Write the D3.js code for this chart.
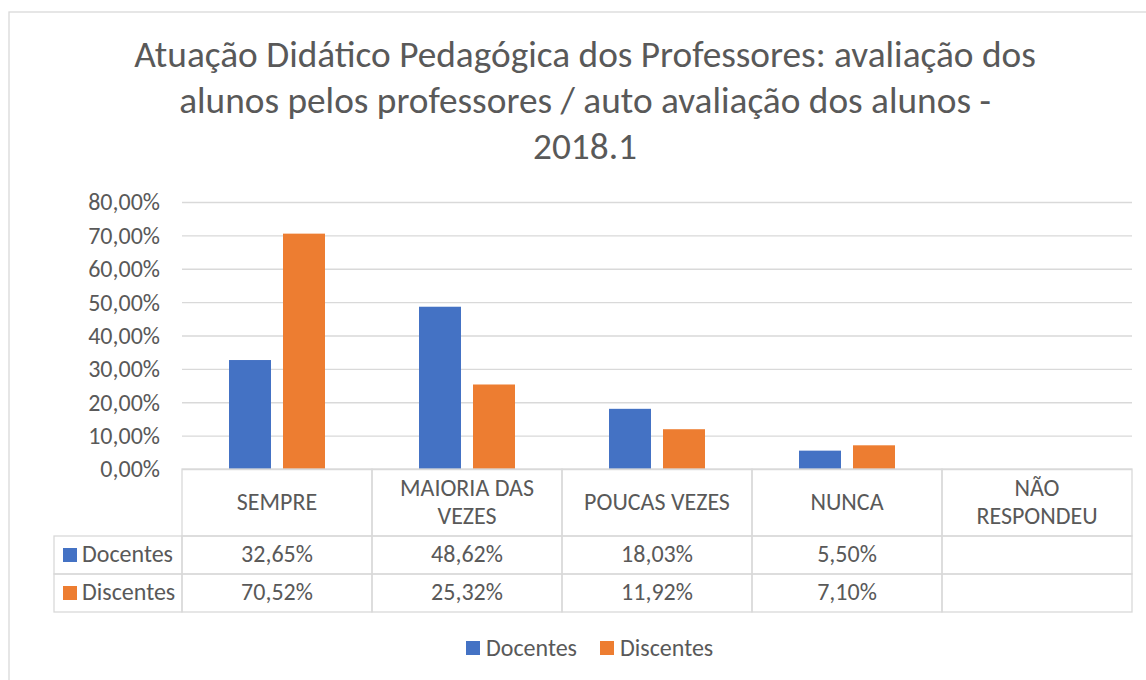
<!DOCTYPE html>
<html>
<head>
<meta charset="utf-8">
<script src="https://cdn.jsdelivr.net/npm/d3@7"></script>
<style>
  body { margin: 0; background: #fff; }
  svg { display: block; font-family: Carlito, Lato, "Open Sans", sans-serif; }
  .grid line { stroke: #d9d9d9; stroke-width: 1.3; }
  .grid path { display: none; }
  .axis-y path, .axis-y line { display: none; }
  .axis-y text { fill: #595959; font-size: 24px; font-family: Carlito, Lato, sans-serif; }
  .cell { fill: none; stroke: #d9d9d9; stroke-width: 1.3; }
  .tbl-text { fill: #595959; font-size: 24px; }
</style>
</head>
<body>
<svg id="chart"></svg>
<script>
// Data
const titleLines = [
  'Atuação Didático Pedagógica dos Professores: avaliação dos',
  'alunos pelos professores / auto avaliação dos alunos -',
  '2018.1'
];
const categories = ['SEMPRE', 'MAIORIA DAS VEZES', 'POUCAS VEZES', 'NUNCA', 'NÃO RESPONDEU'];
const categoryLines = [['SEMPRE'], ['MAIORIA DAS', 'VEZES'], ['POUCAS VEZES'], ['NUNCA'], ['NÃO', 'RESPONDEU']];
const seriesNames = ['Docentes', 'Discentes'];
const docentes = [0.3265, 0.4862, 0.1803, 0.055, null];
const discentes = [0.7052, 0.2532, 0.1192, 0.071, null];
const yTicks = [0, 0.1, 0.2, 0.3, 0.4, 0.5, 0.6, 0.7, 0.8];
const colors = ['#4472c4', '#ed7d31'];

// Layout
const width = 1146;
const height = 680;
const plotLeft = 182;
const plotRight = 1132;
const plotTop = 202;
const plotBottom = 469;
const rowH = 38;
const headerH = 67;
const legendColLeft = 54;

const br = d3.formatLocale({ decimal: ',', thousands: '.', grouping: [3], currency: ['R$', ''] });
const pct = br.format('.2%');

const svg = d3.select('#chart')
  .attr('width', width)
  .attr('height', height);

// chart border (runs off the right and bottom of the picture)
svg.append('rect')
  .attr('x', 9).attr('y', 12)
  .attr('width', width + 20).attr('height', height + 20)
  .attr('fill', '#fff')
  .attr('stroke', '#d9d9d9')
  .attr('stroke-width', 1.3);

// Title
svg.append('text')
  .attr('text-anchor', 'middle')
  .attr('fill', '#595959')
  .style('font-size', '37.3px')
  .selectAll('tspan')
  .data(titleLines)
  .join('tspan')
  .attr('x', 585)
  .attr('y', (d, i) => 67 + i * 46)
  .text(d => d);

// Scales
const xScale = d3.scaleBand()
  .domain(categories)
  .range([plotLeft, plotRight]);

const yScale = d3.scaleLinear()
  .domain([0, 0.8])
  .range([plotBottom, plotTop]);

const innerScale = d3.scaleBand()
  .domain(seriesNames)
  .range([0, 96])
  .paddingInner(0.2222);

// Gridlines
svg.append('g')
  .attr('class', 'grid')
  .attr('transform', `translate(${plotLeft},0)`)
  .call(d3.axisLeft(yScale).tickValues(yTicks).tickSize(-(plotRight - plotLeft)).tickFormat(''));

// Y axis labels
svg.append('g')
  .attr('class', 'axis-y')
  .attr('transform', 'translate(160,0)')
  .call(d3.axisLeft(yScale).tickValues(yTicks).tickSize(0).tickPadding(0).tickFormat(pct))
  .selectAll('text')
  .attr('dy', '0.33em');

// Bars
const seriesData = [docentes, discentes];
seriesData.forEach((vals, s) => {
  svg.append('g')
    .selectAll('rect')
    .data(categories.map((c, i) => ({ cat: c, v: vals[i] })).filter(d => d.v != null))
    .join('rect')
    .attr('x', d => xScale(d.cat) + (xScale.bandwidth() - 96) / 2 + innerScale(seriesNames[s]))
    .attr('y', d => yScale(d.v))
    .attr('width', innerScale.bandwidth())
    .attr('height', d => plotBottom - yScale(d.v))
    .attr('fill', colors[s]);
});

// Data table
const table = svg.append('g');
const rowTop = plotBottom + headerH;

// header cells
categories.forEach((c, i) => {
  table.append('rect')
    .attr('class', 'cell')
    .attr('x', xScale(c)).attr('y', plotBottom)
    .attr('width', xScale.bandwidth()).attr('height', headerH);
  const lines = categoryLines[i];
  table.append('text')
    .attr('class', 'tbl-text')
    .attr('text-anchor', 'middle')
    .selectAll('tspan')
    .data(lines)
    .join('tspan')
    .attr('x', xScale(c) + xScale.bandwidth() / 2)
    .attr('y', (d, j) => plotBottom + 41 + (j - (lines.length - 1) / 2) * 28)
    .text(d => d);
});

// series rows
seriesData.forEach((vals, s) => {
  const y0 = rowTop + s * rowH;
  table.append('rect')
    .attr('class', 'cell')
    .attr('x', legendColLeft).attr('y', y0)
    .attr('width', plotLeft - legendColLeft).attr('height', rowH);
  table.append('rect')
    .attr('x', 63).attr('y', y0 + 12)
    .attr('width', 14).attr('height', 14)
    .attr('fill', colors[s]);
  table.append('text')
    .attr('class', 'tbl-text')
    .attr('x', 82).attr('y', y0 + 26)
    .text(seriesNames[s]);
  categories.forEach((c, i) => {
    table.append('rect')
      .attr('class', 'cell')
      .attr('x', xScale(c)).attr('y', y0)
      .attr('width', xScale.bandwidth()).attr('height', rowH);
    if (vals[i] != null) {
      table.append('text')
        .attr('class', 'tbl-text')
        .attr('text-anchor', 'middle')
        .attr('x', xScale(c) + xScale.bandwidth() / 2)
        .attr('y', y0 + 26)
        .text(pct(vals[i]));
    }
  });
});

// Legend
const legend = svg.append('g');
const legendX = [466, 600];
seriesNames.forEach((name, s) => {
  legend.append('rect')
    .attr('x', legendX[s]).attr('y', 641)
    .attr('width', 14).attr('height', 14)
    .attr('fill', colors[s]);
  legend.append('text')
    .attr('class', 'tbl-text')
    .attr('x', legendX[s] + 20).attr('y', 656)
    .text(name);
});
</script>
</body>
</html>
